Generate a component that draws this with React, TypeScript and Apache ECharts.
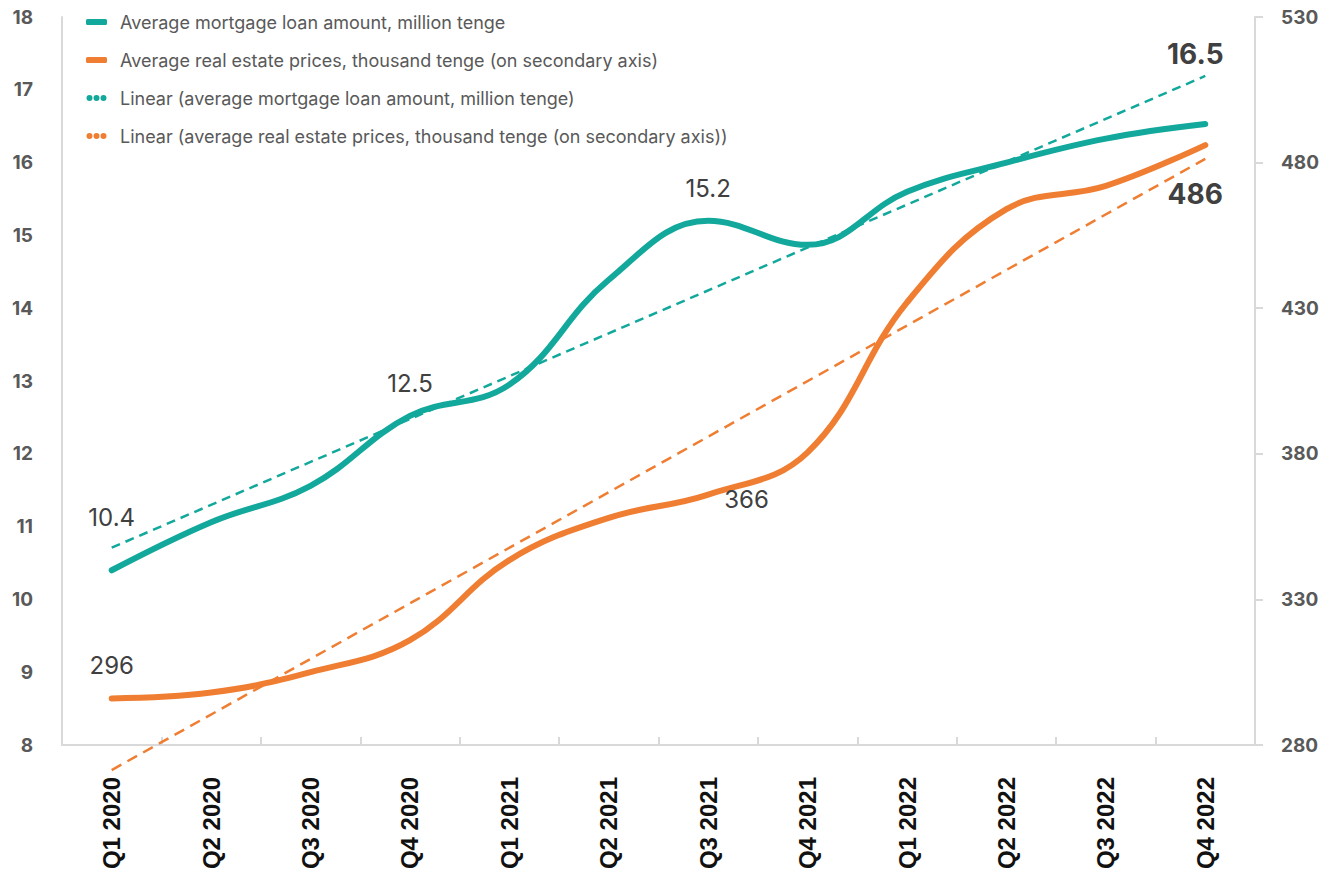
import React, { useEffect, useRef } from "react";
import * as echarts from "echarts";

const categories = [
  "Q1 2020", "Q2 2020", "Q3 2020", "Q4 2020",
  "Q1 2021", "Q2 2021", "Q3 2021", "Q4 2021",
  "Q1 2022", "Q2 2022", "Q3 2022", "Q4 2022",
];
const loanAmount = [10.4, 11.06, 11.56, 12.52, 12.95, 14.39, 15.2, 14.87, 15.6, 16.0, 16.33, 16.53];
const realEstatePrices = [296, 298, 305, 316, 343.5, 358, 366, 380.5, 432, 464, 472, 486];
// Linear trend lines, start (Q1 2020) and end (Q4 2022) values
const loanTrend = [10.71, 17.19];
const priceTrend = [271.4, 481.3];
const leftTicks = [8, 9, 10, 11, 12, 13, 14, 15, 16, 17, 18];
const rightTicks = [280, 330, 380, 430, 480, 530];

const seriesNames = [
  "Average mortgage loan amount, million tenge",
  "Average real estate prices, thousand tenge (on secondary axis)",
  "Linear (average mortgage loan amount, million tenge)",
  "Linear (average real estate prices, thousand tenge (on secondary axis))",
];

const TEAL = "#13A89C";
const ORANGE = "#EF7E32";
const FONT = "Inter, 'Noto Sans', sans-serif";
const LABEL_COLOR = "#404040";

const dotsIcon =
  "path://M0,3a3,3 0 1,0 6,0a3,3 0 1,0 -6,0z M7,3a3,3 0 1,0 6,0a3,3 0 1,0 -6,0z M14,3a3,3 0 1,0 6,0a3,3 0 1,0 -6,0z";

export default function App() {
  const ref = useRef<HTMLDivElement>(null);

  useEffect(() => {
    if (!ref.current) return;
    const chart = echarts.init(ref.current, undefined, { renderer: "svg" });

    const normalLabel = { show: true, color: LABEL_COLOR, fontSize: 24, fontFamily: FONT, fontWeight: 400 as any };
    const boldLabel = { show: true, color: LABEL_COLOR, fontSize: 28, fontFamily: FONT, fontWeight: 700 as any };

    const loanLabels: Record<number, any> = {
      0: { ...normalLabel, position: "top", distance: 41 },
      3: { ...normalLabel, position: "top", distance: 20 },
      6: { ...normalLabel, position: "top", distance: 20 },
      11: { ...boldLabel, position: "top", distance: 56, offset: [-10, 0] },
    };
    const priceLabels: Record<number, any> = {
      0: { ...normalLabel, position: "top", distance: 21 },
      6: { ...normalLabel, position: "right", distance: 16, offset: [0, 5] },
      11: { ...boldLabel, position: "bottom", distance: 35, offset: [-10, 0] },
    };

    const loanData = loanAmount.map((v, i) =>
      loanLabels[i]
        ? { value: v, label: { ...loanLabels[i], formatter: (p: any) => Number(p.value).toFixed(1) } }
        : v
    );
    const priceData = realEstatePrices.map((v, i) =>
      priceLabels[i]
        ? { value: v, label: { ...priceLabels[i], formatter: (p: any) => Math.round(Number(p.value)).toString() } }
        : v
    );

    const axisLineStyle = { color: "#D9D9D9", width: 2 };

    chart.setOption({
      animation: false,
      backgroundColor: "#ffffff",
      textStyle: { fontFamily: FONT },
      grid: { left: 62, right: 82, top: 17, bottom: 131, containLabel: false },
      legend: {
        orient: "vertical",
        left: 81,
        top: 7,
        itemGap: 18,
        itemWidth: 21,
        itemHeight: 6,
        textStyle: {
          color: "#595959",
          fontSize: 18,
          fontFamily: FONT,
          lineHeight: 20,
          padding: [0, 0, 0, 8],
        },
        data: [
          { name: seriesNames[0], icon: "roundRect" },
          { name: seriesNames[1], icon: "roundRect" },
          { name: seriesNames[2], icon: dotsIcon },
          { name: seriesNames[3], icon: dotsIcon },
        ],
      },
      xAxis: {
        type: "category",
        data: categories,
        boundaryGap: true,
        axisLine: { show: true, lineStyle: axisLineStyle },
        axisTick: { show: true, inside: true, length: 8, lineStyle: axisLineStyle },
        axisLabel: {
          rotate: 90,
          margin: 32,
          color: "#111111",
          fontSize: 24,
          fontWeight: 700,
          fontFamily: "'Liberation Sans', Arial, sans-serif",
        },
        splitLine: { show: false },
      },
      yAxis: [
        {
          type: "value",
          min: 8,
          max: 18,
          interval: 1,
          position: "left",
          axisLine: { show: true, lineStyle: axisLineStyle },
          axisTick: { show: false },
          axisLabel: {
            customValues: leftTicks,
            margin: 29,
            color: "#595959",
            fontSize: 19,
            fontWeight: 700,
            fontFamily: FONT,
          },
          splitLine: { show: false },
        },
        {
          type: "value",
          min: 280,
          max: 530,
          position: "right",
          axisLine: { show: true, lineStyle: axisLineStyle },
          axisTick: { show: true, length: 8, lineStyle: axisLineStyle, customValues: rightTicks },
          axisLabel: {
            customValues: rightTicks,
            margin: 26,
            color: "#595959",
            fontSize: 19,
            fontWeight: 700,
            fontFamily: FONT,
          },
          splitLine: { show: false },
        },
      ],
      series: [
        {
          name: seriesNames[2],
          type: "line",
          yAxisIndex: 0,
          data: [
            [categories[0], loanTrend[0]],
            [categories[categories.length - 1], loanTrend[1]],
          ],
          symbol: "none",
          clip: false,
          itemStyle: { color: TEAL },
          lineStyle: { color: TEAL, width: 2.5, type: [9, 6] },
          z: 3,
        },
        {
          name: seriesNames[3],
          type: "line",
          yAxisIndex: 1,
          data: [
            [categories[0], priceTrend[0]],
            [categories[categories.length - 1], priceTrend[1]],
          ],
          symbol: "none",
          clip: false,
          itemStyle: { color: ORANGE },
          lineStyle: { color: ORANGE, width: 2.5, type: [11, 7] },
          z: 3,
        },
        {
          name: seriesNames[0],
          type: "line",
          yAxisIndex: 0,
          data: loanData,
          smooth: 0.4,
          symbol: "circle",
          symbolSize: 0.1,
          showSymbol: true,
          itemStyle: { color: TEAL },
          lineStyle: { color: TEAL, width: 6, cap: "round" },
          z: 2,
        },
        {
          name: seriesNames[1],
          type: "line",
          yAxisIndex: 1,
          data: priceData,
          smooth: 0.4,
          symbol: "circle",
          symbolSize: 0.1,
          showSymbol: true,
          itemStyle: { color: ORANGE },
          lineStyle: { color: ORANGE, width: 6, cap: "round" },
          z: 2,
        },
      ],
    });

    return () => chart.dispose();
  }, []);

  return <div ref={ref} style={{ width: 1337, height: 876, margin: -8 }} />;
}
